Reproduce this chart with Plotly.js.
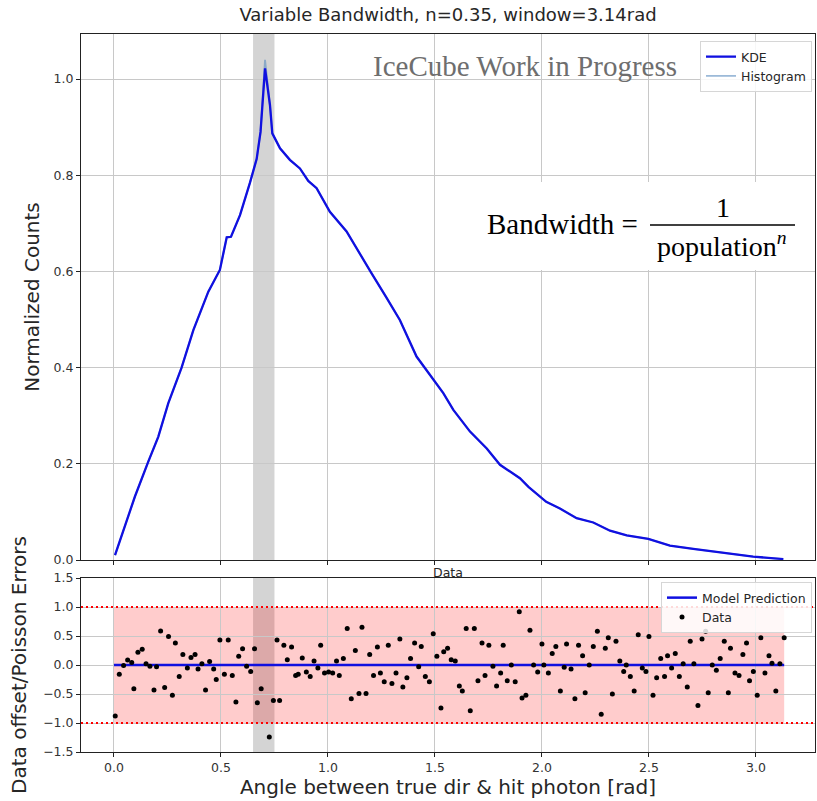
<!DOCTYPE html>
<html>
<head>
<meta charset="utf-8">
<script src="https://cdn.plot.ly/plotly-3.0.1.min.js"></script>
<style>
  html, body { margin: 0; padding: 0; background: #ffffff; }
  #chart { width: 817px; height: 801px; }
</style>
</head>
<body>
<div id="chart"></div>
<script>
// ---------------- data ----------------
const kdeX = [0.005, 0.05, 0.098, 0.16, 0.207, 0.254, 0.316, 0.371, 0.441, 0.495, 0.527, 0.547, 0.589, 0.636, 0.667, 0.685, 0.706, 0.729, 0.74, 0.776, 0.822, 0.869, 0.908, 0.947, 1.009, 1.087, 1.142, 1.204, 1.27, 1.336, 1.414, 1.492, 1.539, 1.586, 1.664, 1.742, 1.804, 1.897, 1.937, 2.02, 2.084, 2.162, 2.24, 2.318, 2.396, 2.497, 2.598, 2.707, 2.832, 2.987, 3.128];
const kdeY = [0.01, 0.07, 0.132, 0.204, 0.256, 0.326, 0.40, 0.478, 0.558, 0.603, 0.671, 0.672, 0.717, 0.785, 0.834, 0.89, 1.022, 0.946, 0.887, 0.856, 0.832, 0.814, 0.788, 0.773, 0.724, 0.683, 0.641, 0.596, 0.548, 0.499, 0.423, 0.374, 0.347, 0.312, 0.267, 0.232, 0.198, 0.17, 0.152, 0.121, 0.107, 0.087, 0.078, 0.061, 0.051, 0.044, 0.030, 0.023, 0.016, 0.007, 0.002];
const histY = [0.01, 0.07, 0.132, 0.204, 0.256, 0.326, 0.40, 0.478, 0.558, 0.603, 0.671, 0.672, 0.717, 0.785, 0.834, 0.89, 1.04, 0.946, 0.887, 0.856, 0.832, 0.814, 0.788, 0.773, 0.724, 0.683, 0.641, 0.596, 0.548, 0.499, 0.423, 0.374, 0.347, 0.312, 0.267, 0.232, 0.198, 0.17, 0.152, 0.121, 0.107, 0.087, 0.078, 0.061, 0.051, 0.044, 0.030, 0.023, 0.016, 0.007, 0.002];

const resX = [0.006,0.025,0.045,0.064,0.083,0.093,0.112,0.132,0.150,0.168,0.187,0.199,0.218,0.237,0.255,0.273,0.287,0.305,0.322,0.343,0.360,0.379,0.393,0.411,0.428,0.447,0.466,0.478,0.495,0.516,0.534,0.553,0.570,0.583,0.601,0.620,0.639,0.657,0.670,0.688,0.726,0.745,0.762,0.774,
0.794,0.810,0.830,0.849,0.861,0.880,0.899,0.917,0.935,0.953,0.966,0.984,1.003,1.022,1.040,1.053,1.072,1.090,1.109,1.128,1.145,1.159,1.178,1.195,1.213,1.231,1.245,1.263,1.282,1.299,1.318,1.336,1.350,1.369,1.386,1.405,1.424,1.436,1.455,1.474,1.492,1.509,1.528,1.541,1.559,1.576,1.595,1.614,1.628,1.646,1.665,1.684,1.701,1.720,1.734,1.752,1.771,1.788,1.807,1.819,1.838,1.857,1.875,1.894,1.907,1.925,1.944,1.961,1.980,
2.000,2.009,2.030,2.048,2.065,2.086,2.104,2.115,2.136,2.154,2.171,2.190,2.202,2.221,2.240,2.259,2.277,2.296,2.310,2.329,2.346,2.364,2.382,2.394,2.413,2.431,2.450,2.469,2.486,2.500,2.519,2.536,2.555,2.573,2.587,2.606,2.623,2.642,2.660,2.679,2.693,2.710,2.729,2.748,2.765,2.777,2.796,2.815,2.833,2.852,2.871,2.881,2.902,2.921,2.939,2.956,2.970,2.988,3.006,3.023,3.042,3.061,3.075,3.093,3.112,3.132];
const resY = [-0.88,-0.16,-0.01,0.085,0.045,-0.41,0.22,0.27,0.02,-0.02,-0.43,-0.03,0.585,-0.39,0.49,-0.52,0.38,-0.20,0.18,-0.05,0.13,0.18,-0.07,0.02,-0.43,0.06,-0.07,-0.25,0.43,-0.16,0.43,-0.18,-0.64,0.15,0.28,-0.02,-0.11,0.28,-0.65,-0.41,-1.24,-0.61,0.43,-0.61,
0.34,0.09,0.31,-0.18,-0.16,0.12,-0.12,-0.20,0.07,-0.05,0.34,-0.14,-0.12,-0.14,0.07,-0.18,0.11,0.63,-0.58,0.25,-0.49,0.65,-0.49,0.18,-0.18,0.31,-0.14,-0.29,0.34,-0.32,-0.14,0.45,-0.38,-0.22,0.11,0.38,-0.03,0.32,-0.20,-0.29,0.54,0.15,-0.74,0.23,0.29,0.09,0.07,-0.36,-0.45,0.63,-0.79,0.63,-0.27,0.38,-0.18,0.34,-0.02,-0.36,-0.14,0.34,-0.27,0.0,-0.29,0.92,-0.57,-0.52,0.60,0.0,-0.12,
0.36,0.0,-0.14,0.20,0.32,-0.45,-0.04,0.36,-0.07,-0.58,0.34,0.16,-0.48,0.0,0.32,0.58,-0.85,0.29,0.47,-0.50,0.41,0.07,-0.11,0.0,-0.20,-0.45,0.52,-0.05,-0.11,0.49,-0.52,-0.22,0.11,-0.20,0.16,-0.05,0.20,-0.20,0.02,-0.38,0.41,0.02,-0.70,0.45,0.58,-0.48,0.0,-0.09,0.11,0.41,-0.48,0.29,-0.14,-0.18,0.18,0.38,-0.27,-0.11,-0.52,0.47,-0.14,0.16,0.03,-0.45,0.02,0.47];

const modelX = [0.0, 3.132];
const modelY = [0.0, 0.0];
const errBandX = [0.0, 3.132];
const errBandY = [-1.0, 1.0];
const highlightX = [0.65, 0.75];

const chartTitle = 'Variable Bandwidth, n=0.35, window=3.14rad';
const xTitle = 'Angle between true dir &amp; hit photon [rad]';
const yTopTitle = 'Normalized Counts';
const yBotTitle = 'Data offset/Poisson Errors';

// ---------------- layout helpers ----------------
const W = 817, H = 801;
const M = {l: 81, r: 2, t: 34, b: 49};
const plotW = W - M.l - M.r, plotH = H - M.t - M.b;
const px2x = p => (p - M.l) / plotW;
const py2y = p => (H - M.b - p) / plotH;

const axisCommon = {
  ticks: 'outside', ticklen: 4, tickwidth: 1, tickcolor: '#222',
  showgrid: true, gridcolor: '#c8c8c8', gridwidth: 1,
  zeroline: false, showline: true, linecolor: '#222', linewidth: 1, mirror: true,
  tickfont: {size: 12.5, color: '#333'}
};

const traces = [
  {x: kdeX, y: histY, xaxis: 'x', yaxis: 'y', type: 'scatter', mode: 'lines',
   name: 'Histogram', legend: 'legend', legendrank: 2,
   line: {color: 'rgba(90,140,190,0.6)', width: 1.8}},
  {x: kdeX, y: kdeY, xaxis: 'x', yaxis: 'y', type: 'scatter', mode: 'lines',
   name: 'KDE', legend: 'legend', legendrank: 1,
   line: {color: '#1010e0', width: 2.3}},
  {x: modelX, y: modelY, xaxis: 'x2', yaxis: 'y2', type: 'scatter', mode: 'lines',
   name: 'Model Prediction', legend: 'legend2', legendrank: 1,
   line: {color: '#1010e0', width: 2.5}},
  {x: resX, y: resY, xaxis: 'x2', yaxis: 'y2', type: 'scatter', mode: 'markers',
   name: 'Data', legend: 'legend2', legendrank: 2,
   marker: {color: '#000', size: 5}}
];

const layout = {
  width: W, height: H, margin: M,
  paper_bgcolor: '#ffffff', plot_bgcolor: '#ffffff',
  font: {family: 'DejaVu Sans', color: '#262626', size: 12.5},
  title: {text: chartTitle, font: {size: 18, color: '#262626'},
          x: 0.5, xref: 'paper', xanchor: 'center', y: 1 - 15 / H, yref: 'container', yanchor: 'middle'},
  showlegend: true,
  xaxis: Object.assign({}, axisCommon, {anchor: 'y', domain: [0, 1], range: [-0.154, 3.276],
          tick0: 0, dtick: 0.5, showticklabels: false}),
  yaxis: Object.assign({}, axisCommon, {domain: [py2y(560), 1], range: [0, 1.0936],
          tick0: 0, dtick: 0.2, tickformat: '.1f',
          title: {text: yTopTitle, font: {size: 20, color: '#262626'}, standoff: 8}}),
  xaxis2: Object.assign({}, axisCommon, {anchor: 'y2', domain: [0, 1], range: [-0.154, 3.276],
          matches: 'x', tick0: 0, dtick: 0.5, tickformat: '.1f',
          title: {text: xTitle, font: {size: 20, color: '#262626'}, standoff: 3}}),
  yaxis2: Object.assign({}, axisCommon, {domain: [0, py2y(578)], range: [-1.5, 1.5],
          tick0: -1.5, dtick: 0.5, tickformat: '.1f',
          title: {text: yBotTitle, font: {size: 20, color: '#262626'}, standoff: 11}}),
  legend: {x: px2x(812), xanchor: 'right', y: py2y(41), yanchor: 'top',
           bgcolor: 'rgba(255,255,255,0.85)', bordercolor: '#d6d6d6', borderwidth: 1,
           font: {size: 12.5, color: '#262626'}, tracegroupgap: 0, itemwidth: 30},
  legend2: {x: px2x(812), xanchor: 'right', y: py2y(582), yanchor: 'top',
           bgcolor: 'rgba(255,255,255,0.85)', bordercolor: '#d6d6d6', borderwidth: 1,
           font: {size: 12.5, color: '#262626'}, tracegroupgap: 0, itemwidth: 30},
  shapes: [
    {type: 'rect', xref: 'x2', yref: 'y2', x0: errBandX[0], x1: errBandX[1], y0: errBandY[0], y1: errBandY[1],
     fillcolor: 'rgba(255,0,0,0.2)', line: {width: 0}, layer: 'below'},
    {type: 'rect', xref: 'x2', yref: 'y2 domain', x0: highlightX[0], x1: highlightX[1], y0: 0, y1: 1,
     fillcolor: 'rgba(128,128,128,0.34)', line: {width: 0}, layer: 'below'},
    {type: 'rect', xref: 'x', yref: 'y domain', x0: highlightX[0], x1: highlightX[1], y0: 0, y1: 1,
     fillcolor: 'rgba(128,128,128,0.34)', line: {width: 0}, layer: 'below'},
    {type: 'line', xref: 'paper', yref: 'y2', x0: 0, x1: 1, y0: errBandY[1], y1: errBandY[1],
     line: {color: '#ff0000', width: 2, dash: '2px,3px'}, layer: 'above'},
    {type: 'line', xref: 'paper', yref: 'y2', x0: 0, x1: 1, y0: errBandY[0], y1: errBandY[0],
     line: {color: '#ff0000', width: 2, dash: '2px,3px'}, layer: 'above'},
    {type: 'rect', xref: 'paper', yref: 'paper', x0: px2x(476), x1: px2x(802), y0: py2y(270), y1: py2y(182),
     fillcolor: '#ffffff', line: {width: 0}, layer: 'above'},
    {type: 'line', xref: 'paper', yref: 'paper', x0: px2x(650), x1: px2x(795), y0: py2y(225), y1: py2y(225),
     line: {color: '#000', width: 1.5}, layer: 'above'}
  ],
  annotations: [
    {text: 'Data', xref: 'paper', yref: 'paper', x: 0.5, y: py2y(572), xanchor: 'center', yanchor: 'middle',
     showarrow: false, font: {size: 12.5, color: '#262626'}},
    {text: 'IceCube Work in Progress', xref: 'paper', yref: 'paper', x: px2x(525), y: py2y(66),
     xanchor: 'center', yanchor: 'middle', showarrow: false,
     font: {family: 'Liberation Serif', size: 29, color: '#6e6e6e'}},
    {text: 'Bandwidth =', xref: 'paper', yref: 'paper', x: px2x(640), y: py2y(224),
     xanchor: 'right', yanchor: 'middle', showarrow: false,
     font: {family: 'Liberation Serif', size: 29, color: '#000'}},
    {text: '1', xref: 'paper', yref: 'paper', x: px2x(723), y: py2y(207),
     xanchor: 'center', yanchor: 'middle', showarrow: false,
     font: {family: 'Liberation Serif', size: 28, color: '#000'}},
    {text: 'population<sup><i>n</i></sup>', xref: 'paper', yref: 'paper', x: px2x(722), y: py2y(244),
     xanchor: 'center', yanchor: 'middle', showarrow: false,
     font: {family: 'Liberation Serif', size: 28, color: '#000'}}
  ]
};

Plotly.newPlot('chart', traces, layout, {displayModeBar: false, staticPlot: true});
</script>
</body>
</html>
